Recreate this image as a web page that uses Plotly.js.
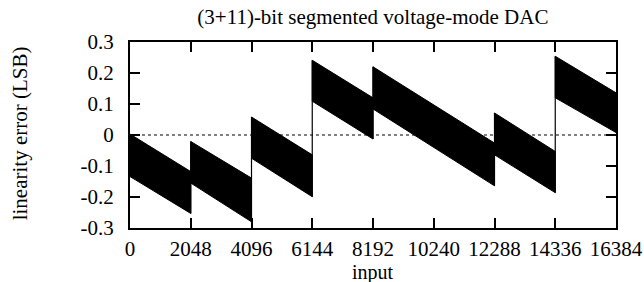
<!DOCTYPE html>
<html>
<head>
<meta charset="utf-8">
<script src="https://cdn.plot.ly/plotly-3.0.1.min.js"></script>
<style>html,body{margin:0;padding:0;background:#fff;}#chart{width:644px;height:282px;}</style>
</head>
<body>
<div id="chart"></div>
<script>
// Segment boundaries (input codes)
var segStart = [0, 2048, 4096, 6144, 8192, 12288, 14336];
var segEnd   = [2048, 4096, 6144, 8192, 12288, 14336, 16384];
// Upper / lower envelope of the linearity error band (LSB)
var upperStart = [0.003, -0.021, 0.058, 0.241, 0.220, 0.071, 0.254];
var upperEnd   = [-0.118, -0.139, -0.064, 0.120, -0.026, -0.053, 0.136];
var lowerStart = [-0.134, -0.155, -0.075, 0.109, 0.084, -0.064, 0.120];
var lowerEnd   = [-0.253, -0.280, -0.199, -0.013, -0.164, -0.186, 0.008];
// Tick labels
var xTicks = [0, 2048, 4096, 6144, 8192, 10240, 12288, 14336, 16384];
var yTicks = [-0.3, -0.2, -0.1, 0, 0.1, 0.2, 0.3];
var yTickText = ['-0.3', '-0.2', '-0.1', '0', '0.1', '0.2', '0.3'];
var zeroX = [0, 16384];
var zeroY = [0, 0];

var FONT = 'Liberation Serif';
var traces = [{
  x: zeroX, y: zeroY, mode: 'lines', type: 'scatter',
  line: {color: '#000', width: 1, dash: 'dot'}, hoverinfo: 'skip', showlegend: false
}];
for (var i = 0; i < segStart.length; i++) {
  traces.push({
    x: [segStart[i], segEnd[i], segEnd[i], segStart[i], segStart[i]],
    y: [upperStart[i], upperEnd[i], lowerEnd[i], lowerStart[i], upperStart[i]],
    type: 'scatter', mode: 'lines', fill: 'toself', fillcolor: '#000',
    line: {color: '#000', width: 1}, showlegend: false, hoverinfo: 'skip'
  });
}
// vertical jump lines at segment boundaries
var jx = [], jy = [];
for (var k = 0; k < segStart.length - 1; k++) {
  jx.push(segEnd[k], segEnd[k], null);
  jy.push(Math.min(lowerEnd[k], lowerStart[k + 1]), Math.max(upperEnd[k], upperStart[k + 1]), null);
}
traces.push({x: jx, y: jy, type: 'scatter', mode: 'lines', line: {color: '#000', width: 1.2},
  showlegend: false, hoverinfo: 'skip'});

var layout = {
  width: 644, height: 282,
  margin: {l: 130, r: 28, t: 42, b: 54},
  paper_bgcolor: '#fff', plot_bgcolor: '#fff',
  font: {family: FONT, color: '#000', size: 21},
  title: {text: '(3+11)-bit segmented voltage-mode DAC', font: {family: FONT, size: 21, color: '#000'},
          x: 0.579, xanchor: 'center', y: 0.94, yanchor: 'middle'},
  showlegend: false,
  xaxis: {
    range: [0, 16384], tickvals: xTicks, ticktext: xTicks.map(String),
    ticks: 'inside', ticklen: 10, tickwidth: 2, tickcolor: '#000',
    showline: true, linewidth: 2, linecolor: '#000', mirror: 'ticks',
    showgrid: false, zeroline: false, ticklabelstandoff: 1,
    tickfont: {family: FONT, size: 21, color: '#000'}
  },
  yaxis: {
    range: [-0.3, 0.3], tickvals: yTicks, ticktext: yTickText,
    ticks: 'inside', ticklen: 10, tickwidth: 2, tickcolor: '#000',
    showline: true, linewidth: 2, linecolor: '#000', mirror: 'ticks',
    showgrid: false, zeroline: false, ticklabelstandoff: 10,
    tickfont: {family: FONT, size: 21, color: '#000'}
  },
  annotations: [
    {text: 'input', xref: 'paper', yref: 'paper', x: 0.5, y: -0.238, xanchor: 'center', yanchor: 'middle',
     showarrow: false, font: {family: FONT, size: 20, color: '#000'}},
    {text: 'linearity error (LSB)', xref: 'paper', yref: 'paper', x: -0.226, y: 0.51, xanchor: 'center', yanchor: 'middle',
     textangle: -90, showarrow: false, font: {family: FONT, size: 21, color: '#000'}}
  ]
};
Plotly.newPlot('chart', traces, layout, {staticPlot: true, displayModeBar: false});
</script>
</body>
</html>
